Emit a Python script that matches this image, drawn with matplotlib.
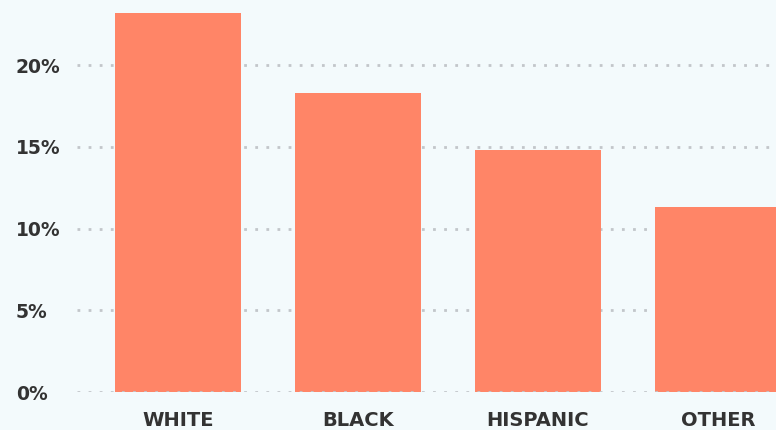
import matplotlib
matplotlib.use('Agg')
import matplotlib.pyplot as plt

# dados
groups = ['WHITE', 'BLACK', 'HISPANIC', 'OTHER']
values = [23.2, 18.3, 14.8, 11.3]
yticks = [0, 5, 10, 15, 20]
ytick_labels = ['0%', '5%', '10%', '15%', '20%']

bg = '#f3fafc'
bar_color = '#ff8567'
text_color = '#333333'
grid_color = '#c2c6ca'

fig = plt.figure(figsize=(7.76, 4.30), dpi=100, facecolor=bg)
ax = fig.add_axes([77 / 776, 38 / 430, 1 - 77 / 776, 392 / 430])
ax.set_facecolor(bg)

x = range(len(groups))
ax.bar(x, values, width=0.705, color=bar_color, zorder=2)

ax.set_xlim(-0.561, 3.322)
ax.set_ylim(0, 23.98)

# grade pontilhada
for v in yticks:
    ax.axhline(v, color=grid_color, linewidth=2, linestyle=(0, (1, 3)),
               zorder=3 if v == 0 else 1)

for s in ax.spines.values():
    s.set_visible(False)

ax.set_yticks(yticks)
ax.set_yticklabels(ytick_labels)
ax.set_xticks(list(x))
ax.set_xticklabels(groups)
ax.tick_params(axis='both', length=0, colors=text_color)
ax.tick_params(axis='y', pad=44)
ax.tick_params(axis='x', pad=14)
for lbl in ax.get_yticklabels():
    lbl.set_horizontalalignment('left')
    lbl.set_fontsize(13.5)
    lbl.set_fontweight('bold')
    lbl.set_fontfamily('DejaVu Sans')
for lbl in ax.get_xticklabels():
    lbl.set_fontsize(14)
    lbl.set_fontweight('bold')
    lbl.set_fontfamily('DejaVu Sans')

fig.savefig('out.png', dpi=100, facecolor=bg)
